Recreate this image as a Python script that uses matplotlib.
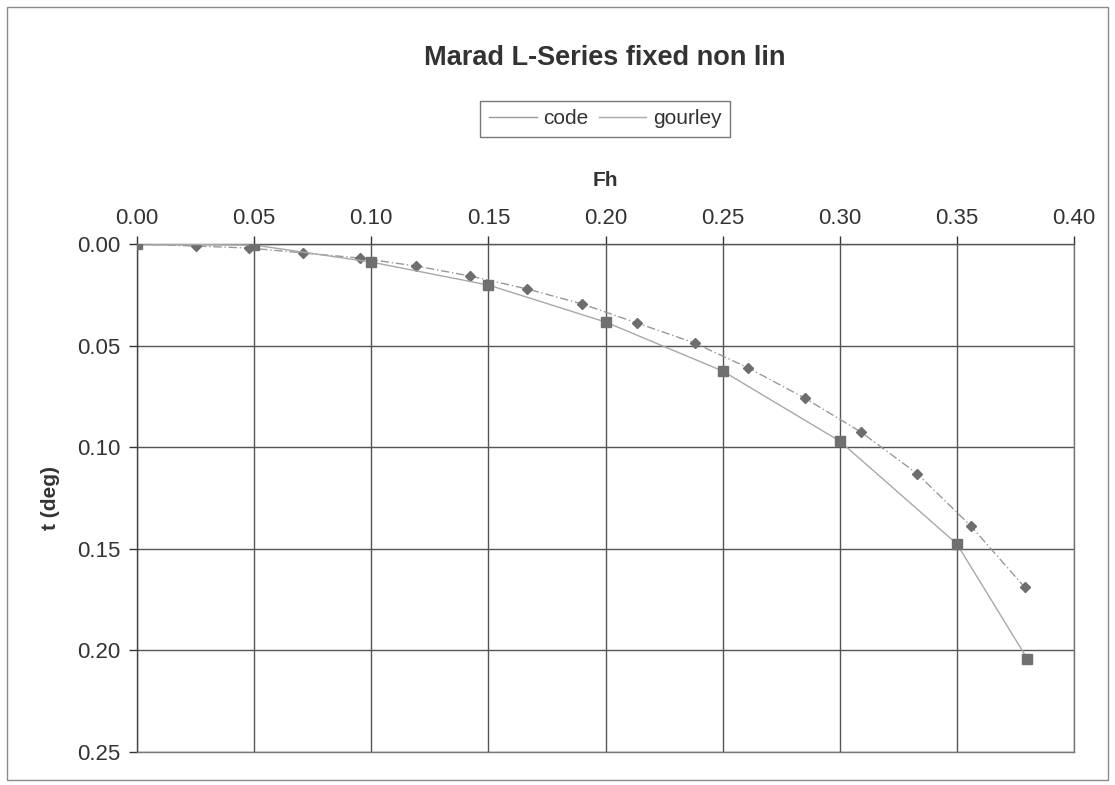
import matplotlib
matplotlib.use("Agg")
import matplotlib.pyplot as plt
from matplotlib.patches import Rectangle

plt.rcParams['font.family'] = ['Liberation Sans', 'DejaVu Sans']

# data
code_fh = [0.0, 0.025, 0.048, 0.071, 0.095, 0.119, 0.142, 0.1665, 0.190, 0.2135,
           0.238, 0.261, 0.285, 0.309, 0.333, 0.356, 0.379]
code_t = [0.0, 0.001, 0.002, 0.0044, 0.0069, 0.0108, 0.0157, 0.0221, 0.0295, 0.0389,
          0.0487, 0.061, 0.0758, 0.0925, 0.113, 0.1388, 0.169]
gourley_fh = [0.0, 0.05, 0.10, 0.15, 0.20, 0.25, 0.30, 0.35, 0.38]
gourley_t = [0.0, 0.0005, 0.0089, 0.0202, 0.0384, 0.0625, 0.097, 0.1476, 0.204]
x_ticks = [0.00, 0.05, 0.10, 0.15, 0.20, 0.25, 0.30, 0.35, 0.40]
y_ticks = [0.00, 0.05, 0.10, 0.15, 0.20, 0.25]

W, H = 1115, 785
fig = plt.figure(figsize=(W / 100, H / 100), dpi=100)
fig.patch.set_facecolor('white')

# outer chart border
fig.patches.append(Rectangle((7 / W, 5 / H), 1101 / W, 773 / H, transform=fig.transFigure,
                             fill=False, edgecolor='#8a8a8a', linewidth=1.0))

ax = fig.add_axes([137 / W, 1 - 752 / H, (1074 - 137) / W, (752 - 244) / H])
ax.set_xlim(0, 0.40)
ax.set_ylim(0.25, 0.0)
ax.xaxis.tick_top()
ax.xaxis.set_label_position('top')
ax.set_xticks(x_ticks)
ax.set_yticks(y_ticks)
ax.set_xticklabels([f"{v:.2f}" for v in x_ticks])
ax.set_yticklabels([f"{v:.2f}" for v in y_ticks])
ax.tick_params(axis='both', labelsize=16, colors='#333333', length=6, width=1,
               direction='out', pad=6)
ax.tick_params(axis='x', pad=5)
ax.grid(True, color='#555555', linewidth=1.0)
ax.set_axisbelow(True)
for s in ax.spines.values():
    s.set_color('#777777')
    s.set_linewidth(1.0)
ax.spines['left'].set_color('#444444')
ax.spines['top'].set_color('#555555')

l1, = ax.plot(code_fh, code_t, color='#999999', linewidth=1.0, linestyle=(0, (6, 2, 1, 2)),
              marker='D', markersize=5.5, markerfacecolor='#6e6e6e', markeredgecolor='#6e6e6e',
              label='code', zorder=3)
l2, = ax.plot(gourley_fh, gourley_t, color='#a8a8a8', linewidth=1.0,
              marker='s', markersize=7, markerfacecolor='#707070', markeredgecolor='#707070',
              label='gourley', zorder=3)

ax.set_xlabel('Fh', fontsize=15, fontweight='bold', color='#333333', labelpad=16)
ax.set_ylabel('t (deg)', fontsize=15, fontweight='bold', color='#333333', labelpad=12)

fig.text(605 / W, 1 - 58 / H, 'Marad L-Series fixed non lin', ha='center', va='center',
         fontsize=19.5, fontweight='bold', color='#333333')

leg = fig.legend(handles=[l1, l2], labels=['code', 'gourley'], loc='center',
                 bbox_to_anchor=(605 / W, 1 - 119 / H), ncol=2, fontsize=15,
                 frameon=True, fancybox=False, edgecolor='#555555', handlelength=2.3,
                 handletextpad=0.3, columnspacing=0.5, borderpad=0.4)
for h in leg.legend_handles:
    h.set_marker('')
    h.set_linestyle('-')
leg.get_frame().set_linewidth(1.0)
for t in leg.get_texts():
    t.set_color('#333333')

fig.savefig('out.png', dpi=100, facecolor='white')
